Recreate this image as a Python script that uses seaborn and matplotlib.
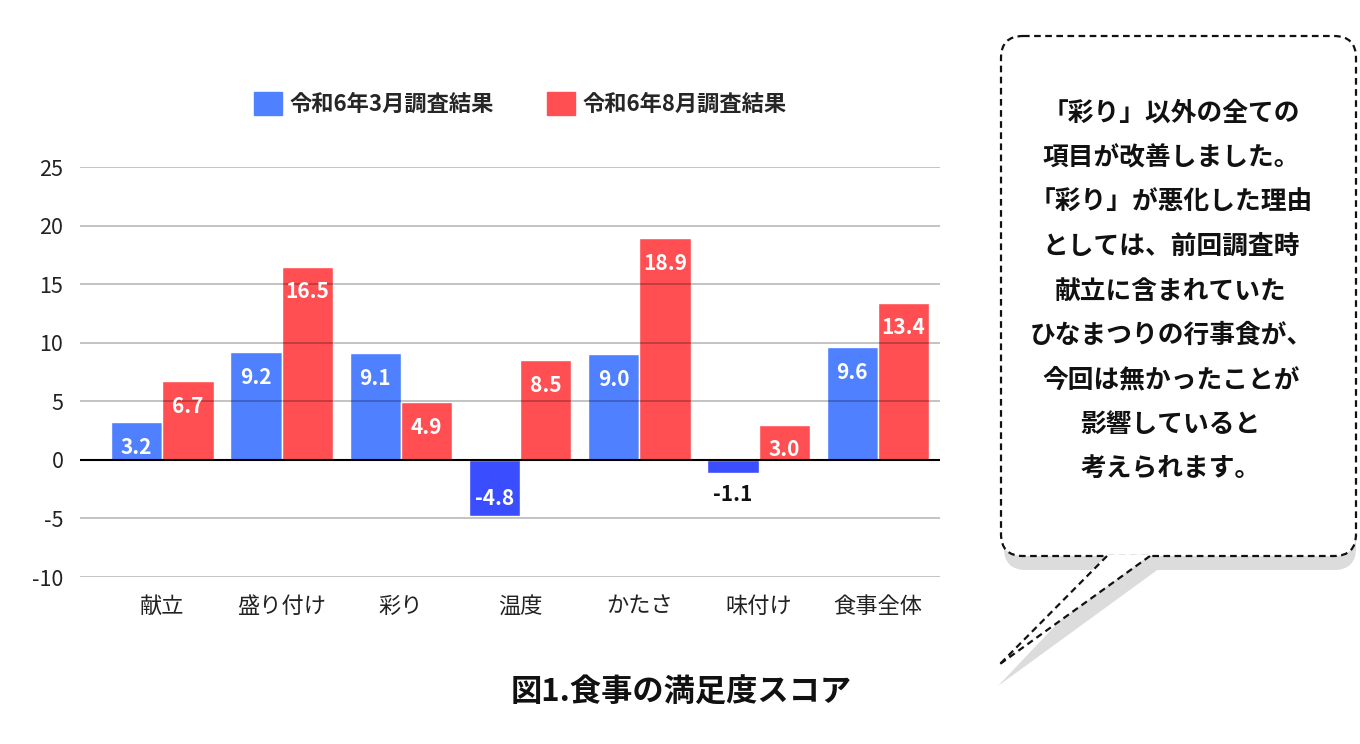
import numpy as np
import pandas as pd
import matplotlib
matplotlib.use("Agg")
import matplotlib.pyplot as plt
import matplotlib.patches as mpatches
import seaborn as sns

# ── Data ─────────────────────────────────────────────────────────────────────
categories = ["献立", "盛り付け", "彩り", "温度", "かたさ", "味付け", "食事全体"]
series_names = ["令和6年3月調査結果", "令和6年8月調査結果"]
march = [3.2, 9.2, 9.1, -4.8, 9.0, -1.1, 9.6]
august = [6.7, 16.5, 4.9, 8.5, 18.9, 3.0, 13.4]
y_ticks = [-10, -5, 0, 5, 10, 15, 20, 25]
title = "図1.食事の満足度スコア"
note_lines = ["「彩り」以外の全ての", "項目が改善しました。", "「彩り」が悪化した理由",
              "としては、前回調査時", "献立に含まれていた", "ひなまつりの行事食が、",
              "今回は無かったことが", "影響していると", "考えられます。"]

BLUE = "#4F80FF"
BLUE_NEG = "#3A4DFF"
RED = "#FF4F52"

df = pd.DataFrame({
    "item": categories * 2,
    "score": march + august,
    "survey": [series_names[0]] * len(categories) + [series_names[1]] * len(categories),
})

# ── Style ────────────────────────────────────────────────────────────────────
sns.set_style("white")
plt.rcParams["font.family"] = ["Noto Sans CJK JP", "DejaVu Sans"]
plt.rcParams["axes.unicode_minus"] = False

fig = plt.figure(figsize=(13.6, 7.44), dpi=100)
ax = fig.add_axes([80 / 1360, 167 / 744, 860 / 1360, 410 / 744])

sns.barplot(data=df, x="item", y="score", hue="survey", order=categories,
            hue_order=series_names, palette=[BLUE, RED], width=0.86,
            saturation=1, legend=False, ax=ax, zorder=2)

ax.set_xlim(-0.69, 6.52)
ax.set_ylim(-10, 25)
ax.set_yticks(y_ticks)
ax.set_xlabel("")
ax.set_ylabel("")
for s in ax.spines.values():
    s.set_visible(False)
ax.tick_params(axis="both", length=0)
ax.tick_params(axis="y", labelsize=15.5, pad=12, labelcolor="#222222")
ax.tick_params(axis="x", labelsize=16, pad=13, labelcolor="#222222")

# gridlines over bars
for t in y_ticks:
    if t == 0:
        ax.axhline(0, color="black", lw=1.5, zorder=4)
    else:
        ax.axhline(t, color="black", alpha=0.28, lw=1.2, zorder=3)

# recolour negative bars, add value labels
for cont in ax.containers:
    for bar in cont:
        h = bar.get_height()
        if h < 0:
            bar.set_facecolor(BLUE_NEG)
        xc = bar.get_x() + bar.get_width() / 2
        if h >= 0:
            ax.annotate(f"{h:.1f}", (xc, h), xytext=(0, -18), textcoords="offset points",
                        ha="center", va="center", color="white", fontsize=15,
                        fontweight="bold", zorder=5)
        elif h < -2:
            ax.annotate(f"{h:.1f}", (xc, h), xytext=(0, 13), textcoords="offset points",
                        ha="center", va="center", color="white", fontsize=15,
                        fontweight="bold", zorder=5)
        else:
            ax.annotate(f"{h:.1f}", (xc, h), xytext=(0, -16), textcoords="offset points",
                        ha="center", va="center", color="#111111", fontsize=15,
                        fontweight="bold", zorder=5)

# legend
handles = [mpatches.Patch(color=BLUE, label=series_names[0]),
           mpatches.Patch(color=RED, label=series_names[1])]
leg = ax.legend(handles=handles, loc="center", bbox_to_anchor=(0.512, 1.154), ncol=2,
                frameon=False, handlelength=1.25, handleheight=1.25, handletextpad=0.35,
                columnspacing=2.4, prop={"size": 16, "weight": "bold"})

fig.text(681 / 1360, 1 - 693 / 744, title, ha="center", va="center",
         fontsize=22.5, fontweight="bold", color="#111111")

# ── Speech bubble ───────────────────────────────────────────────────────────
ov = fig.add_axes([0, 0, 1, 1], zorder=-1)
ov.set_xlim(0, 1360)
ov.set_ylim(744, 0)
ov.axis("off")

bx0, by0, bx1, by1 = 1001, 36, 1356, 556
sh = 14
shadow_c = "#dcdcdc"
ov.add_patch(mpatches.FancyBboxPatch((bx0 + 3, by0 + sh), bx1 - bx0 - 3, by1 - by0,
                                     boxstyle="round,pad=0,rounding_size=22",
                                     fc=shadow_c, ec="none", zorder=1))
ov.add_patch(mpatches.Polygon([(1110, by1 + sh - 2), (1160, by1 + sh - 2), (998, 686)],
                              closed=True, fc=shadow_c, ec="none", zorder=1))
ov.add_patch(mpatches.FancyBboxPatch((bx0, by0), bx1 - bx0, by1 - by0,
                                     boxstyle="round,pad=0,rounding_size=22",
                                     fc="white", ec="#111111", lw=1.6, ls=(0, (3, 2)),
                                     zorder=2))
ov.add_patch(mpatches.Polygon([(1107, by1 - 1), (1150, by1 - 1), (998, 666)],
                              closed=True, fc="white", ec="none", zorder=3))
ov.plot([1107, 998], [by1, 666], color="#111111", lw=1.6, ls=(0, (3, 2)), zorder=4)
ov.plot([1150, 1000], [by1, 664], color="#111111", lw=1.6, ls=(0, (3, 2)), zorder=4)

for i, line in enumerate(note_lines):
    ov.text(1171, 113 + i * 44.5, line, ha="center", va="center", fontsize=18.5,
            fontweight="bold", color="#111111", zorder=5)

fig.savefig("out.png", dpi=100, facecolor="white")
